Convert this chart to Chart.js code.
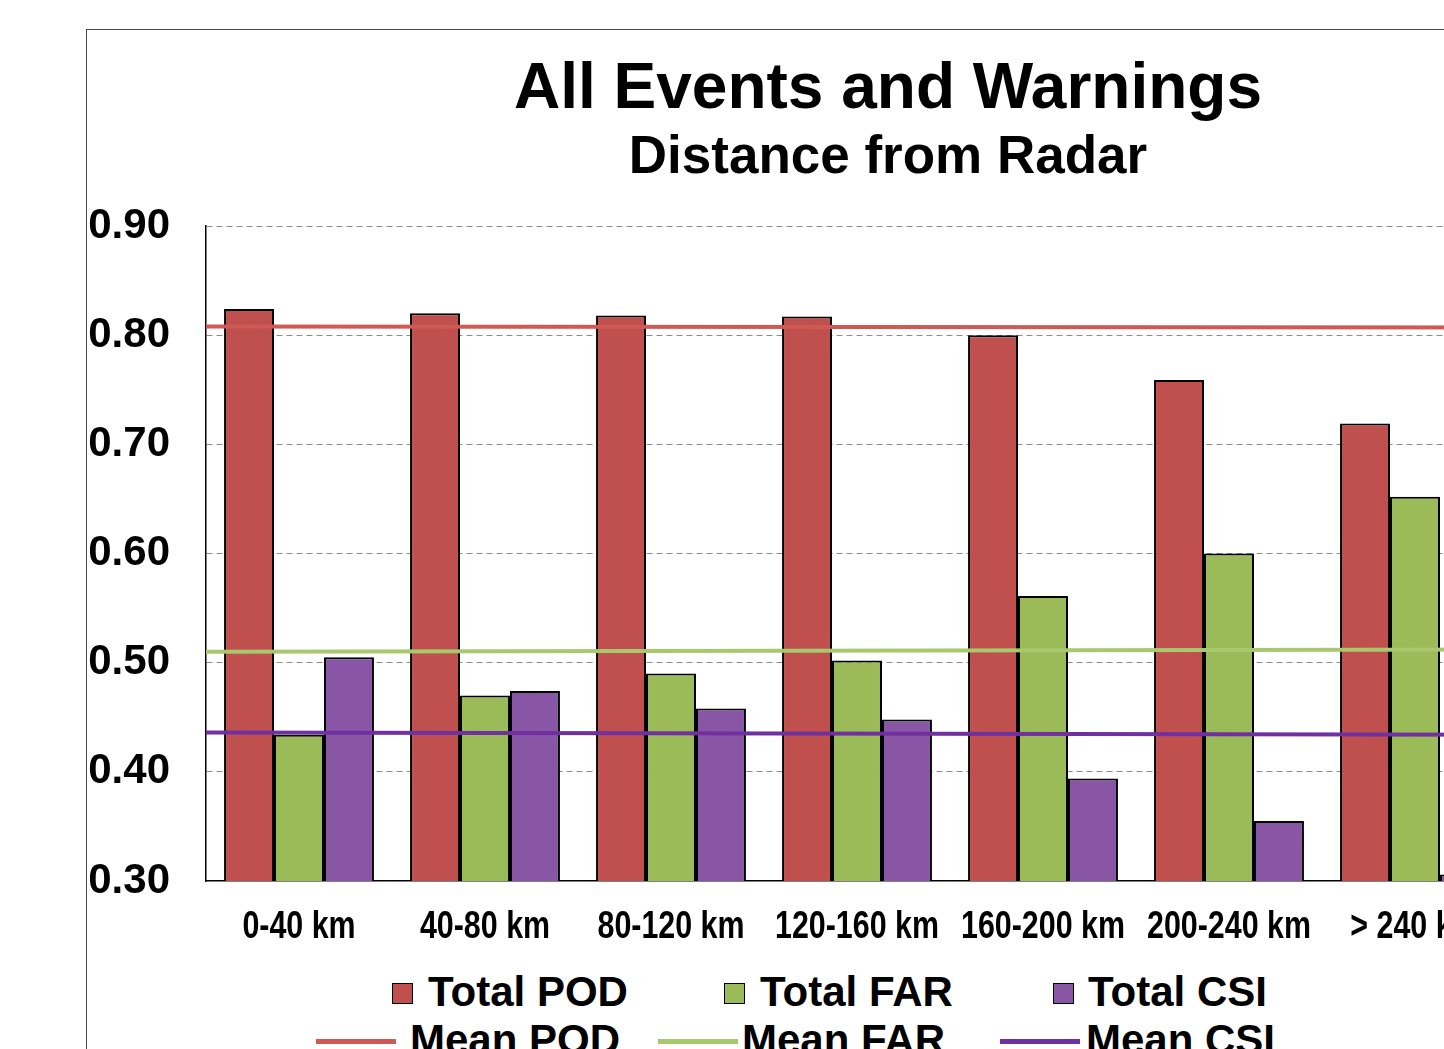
<!DOCTYPE html>
<html>
<head>
<meta charset="utf-8">
<script src="https://cdn.jsdelivr.net/npm/chart.js@4.4.1/dist/chart.umd.min.js"></script>
<style>
  html, body { margin: 0; padding: 0; background: #fff; overflow: hidden; width: 1444px; height: 1049px; }
  #frame { position: absolute; left: 86px; top: 29px; width: 2000px; height: 2000px; border: 1px solid #444; }
  .title { position: absolute; left: 388px; width: 1000px; text-align: center; font-family: "Liberation Sans", Arial, sans-serif; font-weight: bold; color: #000; white-space: nowrap; }
  #t1 { top: 54px; font-size: 64px; line-height: 64px; }
  #t2 { top: 128px; font-size: 53px; line-height: 53px; }
  #chart { position: absolute; left: 0; top: 190px; }
  .lg-text { position: absolute; font-family: "Liberation Sans", Arial, sans-serif; font-weight: bold; font-size: 42px; line-height: 42px; color: #000; white-space: nowrap; }
  .lg-box { position: absolute; width: 19px; height: 19px; border: 1.5px solid #000; }
  .lg-line { position: absolute; width: 80px; height: 5px; }
</style>
</head>
<body>
<div id="frame"></div>
<div class="title" id="t1">All Events and Warnings</div>
<div class="title" id="t2">Distance from Radar</div>
<canvas id="chart" width="1540" height="771"></canvas>
<div id="legend"></div>
<script>
// Categories and values.
const categories = ["0-40 km", "40-80 km", "80-120 km", "120-160 km", "160-200 km", "200-240 km", "> 240 km"];
const totalPOD = [0.824, 0.820, 0.818, 0.817, 0.800, 0.759, 0.719];
const totalFAR = [0.434, 0.470, 0.490, 0.502, 0.561, 0.600, 0.652];
const totalCSI = [0.505, 0.474, 0.458, 0.448, 0.394, 0.355, 0.306];
// Mean lines, value at the left and right edge of the plot.
const meanPOD = [0.808, 0.807];
const meanFAR = [0.510, 0.512];
const meanCSI = [0.436, 0.434];
const yTicks = [0.30, 0.40, 0.50, 0.60, 0.70, 0.80, 0.90];

const barColors = ["#c0504d", "#9bbb59", "#8956a6"];
const lineColors = ["#cf5955", "#a8c86e", "#7030a0"];

// The mean lines run from the left edge of the first category to the right edge of the last.
// With parsing off, the category axis takes the half-step positions as they are.
const edges = [-0.5, categories.length - 0.5];
const meanLine = (label, vals, color) => ({
    type: "line",
    label: label,
    parsing: false,
    data: vals.map((v, i) => ({ x: edges[i], y: v })),
    borderColor: color,
    borderWidth: 4,
    pointRadius: 0,
    order: 1
});
const bar = (label, vals, color) => ({
    type: "bar",
    label: label,
    data: vals,
    backgroundColor: color,
    borderColor: "#000",
    borderWidth: 2,
    categoryPercentage: 0.806,
    barPercentage: 1,
    order: 2
});

// Category labels in a narrow bold face: the narrow font is not installed, so squeeze Liberation Sans.
const narrowLabels = {
    id: "narrowLabels",
    afterDraw(chart) {
        const scale = chart.scales.x;
        const ctx = chart.ctx;
        ctx.save();
        ctx.font = "bold 38px 'Liberation Sans', Arial, sans-serif";
        ctx.fillStyle = "#000";
        ctx.textAlign = "center";
        ctx.textBaseline = "alphabetic";
        scale.ticks.forEach((t, i) => {
            const x = scale.getPixelForTick(i);
            ctx.save();
            ctx.translate(x, scale.top + 57);
            ctx.scale(0.8, 1);
            ctx.fillText(categories[i], 0, 0);
            ctx.restore();
        });
        ctx.restore();
    }
};

new Chart(document.getElementById("chart"), {
    type: "bar",
    data: {
        labels: categories,
        datasets: [
            bar("Total POD", totalPOD, barColors[0]),
            bar("Total FAR", totalFAR, barColors[1]),
            bar("Total CSI", totalCSI, barColors[2]),
            meanLine("Mean POD", meanPOD, lineColors[0]),
            meanLine("Mean FAR", meanFAR, lineColors[1]),
            meanLine("Mean CSI", meanCSI, lineColors[2])
        ]
    },
    plugins: [narrowLabels],
    options: {
        responsive: false,
        animation: false,
        layout: { padding: { top: 36, right: 32, left: 0, bottom: 0 } },
        plugins: { legend: { display: false }, tooltip: { enabled: false } },
        scales: {
            x: {
                grid: { display: false, drawTicks: false },
                border: { display: true, color: "#000", width: 1.5 },
                ticks: { display: false },
                afterFit: (scale) => { scale.height = 80; }
            },
            y: {
                min: yTicks[0],
                max: yTicks[yTicks.length - 1],
                afterBuildTicks: (scale) => { scale.ticks = yTicks.map(v => ({ value: v })); },
                grid: {
                    drawTicks: false,
                    color: (ctx) => (ctx.tick && ctx.tick.value < 0.31) ? "rgba(0,0,0,0)" : "#8c8c8c",
                    lineWidth: 1
                },
                border: { display: true, color: "#000", width: 1.5, dash: [6, 4] },
                ticks: {
                    color: "#000",
                    padding: 36,
                    font: { family: "'Liberation Sans', Arial, sans-serif", size: 42, weight: "bold" },
                    callback: (v) => Number(v).toFixed(2)
                },
                // fixed axis width; drop the label padding so the plot top stays at the layout padding
                afterFit: (scale) => {
                    scale.width = 206;
                    scale.paddingTop = 0;
                    scale.paddingBottom = 0;
                }
            }
        }
    }
});

// Legend built from the same labels and colours, in two rows of three.
const legend = document.getElementById("legend");
const boxItems = [
    { label: "Total POD", color: barColors[0], box: 392, text: 428 },
    { label: "Total FAR", color: barColors[1], box: 724, text: 760 },
    { label: "Total CSI", color: barColors[2], box: 1053, text: 1088 }
];
const lineItems = [
    { label: "Mean POD", color: lineColors[0], line: 316, text: 410 },
    { label: "Mean FAR", color: lineColors[1], line: 658, text: 742 },
    { label: "Mean CSI", color: lineColors[2], line: 1000, text: 1086 }
];
boxItems.forEach((it) => {
    legend.innerHTML += `<div class="lg-box" style="left:${it.box}px;top:983px;background:${it.color}"></div>
        <div class="lg-text" style="left:${it.text}px;top:971px">${it.label}</div>`;
});
lineItems.forEach((it) => {
    legend.innerHTML += `<div class="lg-line" style="left:${it.line}px;top:1039px;background:${it.color}"></div>
        <div class="lg-text" style="left:${it.text}px;top:1019px">${it.label}</div>`;
});
</script>
</body>
</html>
